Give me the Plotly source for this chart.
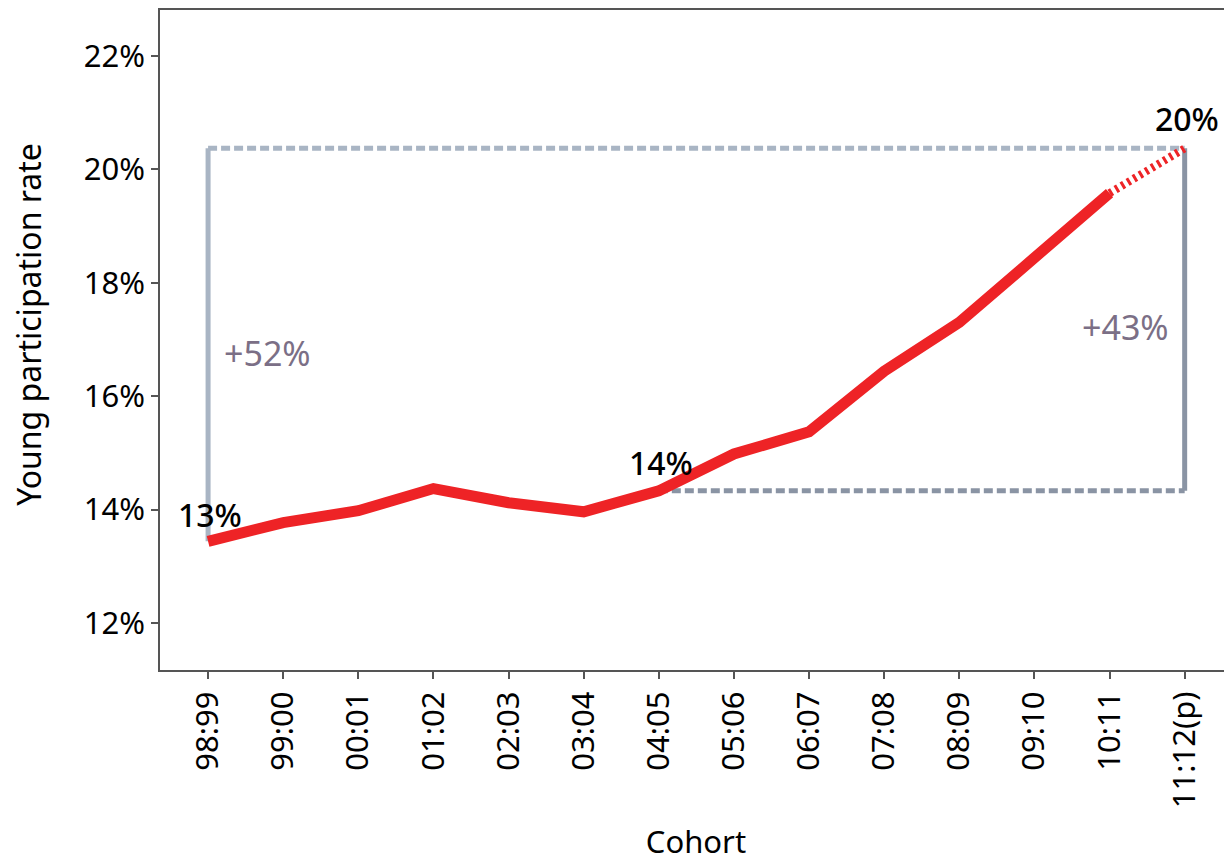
import plotly.graph_objects as go

cohorts = ["98:99", "99:00", "00:01", "01:02", "02:03", "03:04", "04:05",
           "05:06", "06:07", "07:08", "08:09", "09:10", "10:11", "11:12(p)"]
rate = [13.44, 13.77, 13.98, 14.37, 14.12, 13.96, 14.33,
        14.98, 15.37, 16.44, 17.30, 18.41, 19.58, 20.37]
y_ticks = [12, 14, 16, 18, 20, 22]
y_tick_labels = ["12%", "14%", "16%", "18%", "20%", "22%"]
# reference levels for comparison boxes
start_level = 13.44
mid_level = 14.33
end_level = 20.37
mid_index = 6
point_labels = {0: "13%", 6: "14%", 13: "20%"}
growth_labels = ["+52%", "+43%"]
growth_label_y = [16.76, 17.22]

xs = list(range(len(cohorts)))
red = "#ee2326"
light_grey = "#a9b5c4"
dark_grey = "#8a94a4"
label_purple = "#7b6f86"
font_family = "Noto Sans, Open Sans, sans-serif"

fig = go.Figure()

# comparison box lines
fig.add_trace(go.Scatter(x=[xs[0], xs[-1]], y=[end_level, end_level], mode="lines",
                         line=dict(color=light_grey, width=5, dash="9px,4px"),
                         hoverinfo="skip", showlegend=False))
fig.add_trace(go.Scatter(x=[xs[0], xs[0]], y=[start_level, end_level], mode="lines",
                         line=dict(color=light_grey, width=5),
                         hoverinfo="skip", showlegend=False))
fig.add_trace(go.Scatter(x=[mid_index, xs[-1]], y=[mid_level, mid_level], mode="lines",
                         line=dict(color=dark_grey, width=5, dash="9px,4px"),
                         hoverinfo="skip", showlegend=False))
fig.add_trace(go.Scatter(x=[xs[-1], xs[-1]], y=[mid_level, end_level], mode="lines",
                         line=dict(color=dark_grey, width=5),
                         hoverinfo="skip", showlegend=False))

# main line (actual) and projected segment
fig.add_trace(go.Scatter(x=xs[:-1], y=rate[:-1], mode="lines",
                         line=dict(color=red, width=11),
                         showlegend=False))
fig.add_trace(go.Scatter(x=xs[-2:], y=rate[-2:], mode="lines",
                         line=dict(color=red, width=8, dash="3px,4px"),
                         showlegend=False))

label_shift = {0: 27, 6: 28, 13: 30}
annotations = []
for i, txt in point_labels.items():
    annotations.append(dict(x=xs[i], y=rate[i], text=txt, showarrow=False,
                            yshift=label_shift[i], xshift=2,
                            font=dict(family=font_family, size=32, color="#000000", weight=500)))
annotations.append(dict(x=xs[0], y=growth_label_y[0], text=growth_labels[0],
                        showarrow=False, xanchor="left", xshift=14,
                        font=dict(family=font_family, size=34, color=label_purple)))
annotations.append(dict(x=xs[-1], y=growth_label_y[1], text=growth_labels[1],
                        showarrow=False, xanchor="right", xshift=-14,
                        font=dict(family=font_family, size=34, color=label_purple)))
# y-axis title placed as rotated text
annotations.append(dict(xref="paper", yref="paper", x=0, y=0.523, xshift=-131,
                        text="Young participation rate", textangle=-90, showarrow=False,
                        xanchor="center", yanchor="middle",
                        font=dict(family=font_family, size=32, color="#000000")))

fig.update_layout(
    width=1224, height=854,
    margin=dict(l=152, r=0, t=0, b=192),
    plot_bgcolor="white", paper_bgcolor="white",
    font=dict(family=font_family, size=31, color="#000000"),
    annotations=annotations,
    xaxis=dict(
        range=[-0.64, 13.63],
        tickmode="array", tickvals=xs, ticktext=cohorts, tickangle=-90,
        ticks="outside", ticklen=7, tickcolor="#555555", tickwidth=1.5,
        showline=True, linecolor="#555555", linewidth=2, mirror=True,
        showgrid=False, zeroline=False,
        tickfont=dict(family=font_family, size=31),
        title=dict(text="Cohort", font=dict(family=font_family, size=31), standoff=28),
    ),
    yaxis=dict(
        range=[11.17, 22.81],
        tickmode="array", tickvals=y_ticks, ticktext=y_tick_labels,
        ticks="outside", ticklen=7, tickcolor="#555555", tickwidth=1.5,
        showline=True, linecolor="#555555", linewidth=1.5,
        showgrid=False, zeroline=False,
        tickfont=dict(family=font_family, size=31),
    ),
)

fig.write_html("out.html")
